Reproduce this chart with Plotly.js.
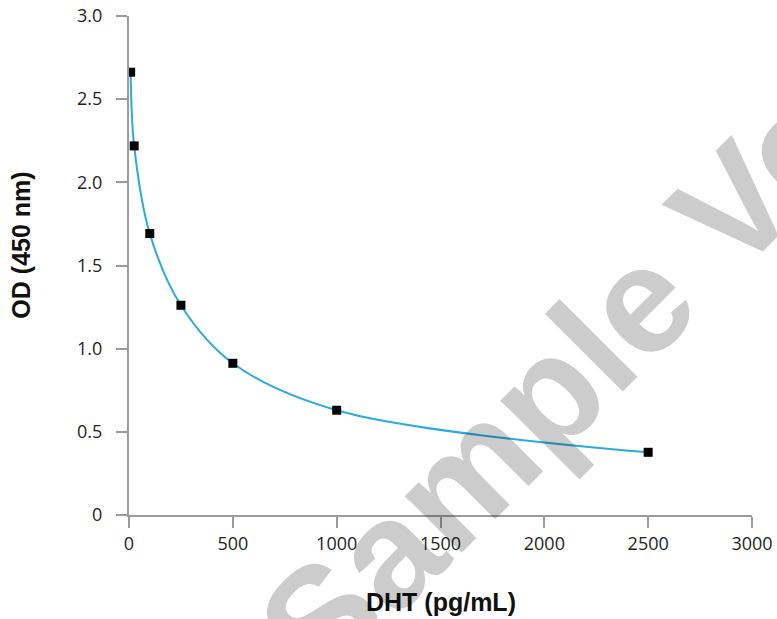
<!DOCTYPE html>
<html>
<head>
<meta charset="utf-8">
<script src="https://cdn.plot.ly/plotly-3.0.1.min.js"></script>
<style>
  html, body { margin: 0; padding: 0; background: #ffffff; }
  #chart { width: 777px; height: 619px; }
</style>
</head>
<body>
<div id="chart"></div>
<script>
// Standard curve data
const dhtConc = [8, 25, 100, 250, 500, 1000, 2500];
const odValues = [2.662, 2.219, 1.692, 1.261, 0.912, 0.630, 0.377];

const xTickVals = [0, 500, 1000, 1500, 2000, 2500, 3000];
const xTickText = ['0', '500', '1000', '1500', '2000', '2500', '3000'];
const yTickVals = [0, 0.5, 1.0, 1.5, 2.0, 2.5, 3.0];
const yTickText = ['0', '0.5', '1.0', '1.5', '2.0', '2.5', '3.0'];

const xTitle = 'DHT (pg/mL)';
const yTitle = 'OD (450 nm)';
const watermark = 'Sample Version';

const axisColor = '#9b9b9b';
const tickFont = { family: 'Open Sans, Noto Sans, sans-serif', size: 18, color: '#231f20' };
const titleFont = { family: 'Liberation Sans, Arial, sans-serif', size: 25, color: '#111111' };

const traces = [{
  x: dhtConc,
  y: odValues,
  type: 'scatter',
  mode: 'lines+markers',
  line: { color: '#29abe2', width: 2, shape: 'spline', smoothing: 1 },
  marker: { symbol: 'square', size: 9, color: '#000000' },
  hoverinfo: 'x+y',
  showlegend: false
}];

const layout = {
  width: 777,
  height: 619,
  margin: { l: 129, r: 25, t: 16, b: 104, pad: 0 },
  paper_bgcolor: '#ffffff',
  plot_bgcolor: '#ffffff',
  showlegend: false,
  xaxis: {
    range: [0, 3000],
    tickvals: xTickVals,
    ticktext: xTickText,
    showgrid: false,
    zeroline: false,
    showline: true,
    linecolor: axisColor,
    linewidth: 2,
    ticks: 'outside',
    ticklen: 11,
    tickwidth: 2,
    tickcolor: axisColor,
    tickfont: tickFont,
    fixedrange: true
  },
  yaxis: {
    range: [0, 3],
    tickvals: yTickVals,
    ticktext: yTickText,
    showgrid: false,
    zeroline: false,
    showline: true,
    linecolor: axisColor,
    linewidth: 2,
    ticks: 'outside',
    ticklen: 11,
    tickwidth: 2,
    tickcolor: axisColor,
    tickfont: tickFont,
    ticklabelstandoff: 10,
    fixedrange: true
  },
  annotations: [
    {
      text: '<b>' + xTitle + '</b>',
      xref: 'paper', yref: 'paper',
      x: 0.5, y: -0.175,
      xanchor: 'center', yanchor: 'middle',
      showarrow: false,
      font: titleFont
    },
    {
      text: '<b>' + yTitle + '</b>',
      xref: 'paper', yref: 'paper',
      x: -0.1728, y: 0.5405,
      xanchor: 'center', yanchor: 'middle',
      textangle: -90,
      showarrow: false,
      font: titleFont
    },
    {
      text: '<b>' + watermark + '</b>',
      xref: 'paper', yref: 'paper',
      x: 0.893, y: 0.524,
      xanchor: 'center', yanchor: 'middle',
      textangle: -45,
      showarrow: false,
      font: { family: 'Liberation Sans, Arial, sans-serif', size: 152, color: 'rgba(0,0,0,0.2)' }
    }
  ]
};

Plotly.newPlot('chart', traces, layout, { displayModeBar: false, staticPlot: true });
</script>
</body>
</html>
